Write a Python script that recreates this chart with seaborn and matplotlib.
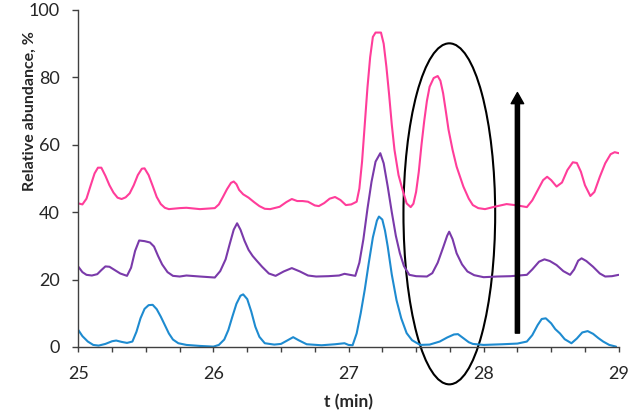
import pandas as pd
import seaborn as sns
import matplotlib.pyplot as plt
from matplotlib.patches import Ellipse
from matplotlib.ticker import MultipleLocator

# values (t in min, relative abundance in %)
pink_t = [25.00, 25.03, 25.06, 25.09, 25.12, 25.145, 25.17, 25.20, 25.23, 25.26,
          25.29, 25.32, 25.35, 25.38, 25.41, 25.44, 25.47, 25.49, 25.52, 25.55,
          25.58, 25.61, 25.64, 25.67, 25.75, 25.80, 25.90, 26.01, 26.04, 26.07,
          26.10, 26.13, 26.15, 26.17, 26.19, 26.22, 26.26, 26.30, 26.34, 26.38,
          26.42, 26.49, 26.54, 26.58, 26.62, 26.66, 26.70, 26.75, 26.78, 26.82,
          26.86, 26.90, 26.94, 26.98, 27.02, 27.06, 27.08, 27.10, 27.12, 27.14,
          27.16, 27.18, 27.20, 27.24, 27.26, 27.28, 27.30, 27.32, 27.34, 27.37,
          27.40, 27.43, 27.46, 27.48, 27.50, 27.52, 27.54, 27.56, 27.58, 27.60,
          27.63, 27.66, 27.68, 27.70, 27.72, 27.74, 27.77, 27.80, 27.85, 27.89,
          27.92, 27.96, 28.01, 28.08, 28.17, 28.25, 28.32, 28.36, 28.40, 28.44,
          28.47, 28.50, 28.54, 28.58, 28.62, 28.66, 28.69, 28.72, 28.75, 28.79,
          28.82, 28.86, 28.90, 28.94, 28.97, 29.00]
pink_y = [42.6, 42.3, 44.0, 47.8, 51.5, 53.2, 53.2, 50.8, 48.0, 45.8,
          44.3, 43.9, 44.4, 45.6, 48.0, 51.0, 52.9, 53.0, 51.0, 47.8,
          44.5, 42.4, 41.3, 40.9, 41.2, 41.3, 40.9, 41.2, 42.3, 44.5,
          46.8, 48.7, 49.1, 48.3, 46.6, 45.3, 44.3, 43.0, 41.8, 41.0,
          40.9, 41.6, 43.0, 43.9, 43.3, 43.3, 43.1, 42.0, 41.8, 42.7,
          44.0, 44.5, 43.6, 42.1, 42.3, 43.1, 47.0, 55.0, 66.0, 77.0,
          86.0, 92.0, 93.3, 93.3, 90.0, 83.2, 75.0, 66.0, 58.5, 51.0,
          46.6, 42.6, 41.5, 42.5, 46.0, 52.0, 60.0, 67.0, 73.0, 77.2,
          79.8, 80.4, 79.0, 75.3, 70.0, 64.5, 58.5, 53.5, 47.6, 44.0,
          42.1, 41.2, 40.9, 41.6, 42.4, 42.0, 41.5, 43.5, 46.5, 49.5,
          50.5, 49.5, 47.6, 48.8, 52.5, 54.8, 54.6, 52.0, 48.0, 44.8,
          46.0, 50.5, 54.5, 57.2, 57.8, 57.5]

purple_t = [25.00, 25.03, 25.06, 25.10, 25.14, 25.17, 25.20, 25.23, 25.27, 25.31,
            25.36, 25.39, 25.42, 25.45, 25.49, 25.53, 25.56, 25.59, 25.62, 25.66,
            25.70, 25.75, 25.80, 25.90, 26.01, 26.05, 26.09, 26.12, 26.15, 26.175,
            26.20, 26.23, 26.26, 26.29, 26.32, 26.36, 26.41, 26.46, 26.52, 26.58,
            26.64, 26.70, 26.76, 26.85, 26.93, 26.97, 27.01, 27.05, 27.08, 27.11,
            27.14, 27.17, 27.20, 27.235, 27.26, 27.29, 27.32, 27.35, 27.38, 27.41,
            27.45, 27.50, 27.58, 27.62, 27.66, 27.70, 27.73, 27.745, 27.77, 27.80,
            27.84, 27.88, 27.93, 28.00, 28.10, 28.20, 28.32, 28.36, 28.41, 28.45,
            28.49, 28.54, 28.59, 28.64, 28.67, 28.70, 28.725, 28.76, 28.81, 28.86,
            28.90, 28.95, 29.00]
purple_y = [23.8, 22.2, 21.4, 21.2, 21.6, 22.8, 23.9, 23.8, 22.8, 21.8,
            21.1, 23.5, 28.5, 31.6, 31.4, 31.0, 29.8, 27.0, 24.5, 22.2,
            21.1, 20.9, 21.2, 20.9, 20.6, 22.5, 26.0, 30.5, 34.8, 36.7,
            34.8, 31.5, 28.8, 27.0, 25.6, 23.8, 21.8, 21.1, 22.4, 23.4,
            22.4, 21.2, 20.9, 21.0, 21.2, 21.7, 21.4, 21.1, 25.0, 32.0,
            41.0, 49.0, 55.0, 57.5, 54.5, 47.6, 40.0, 33.0, 27.8, 24.0,
            21.4, 21.0, 20.9, 21.9, 25.0, 29.5, 33.0, 34.2, 32.0, 27.8,
            24.5, 22.4, 21.3, 20.7, 20.9, 21.0, 21.4, 23.0, 25.3, 26.0,
            25.5, 24.3, 22.5, 21.4, 23.0, 25.6, 26.3, 25.5, 23.8, 21.8,
            20.9, 21.0, 21.4]

blue_t = [25.00, 25.03, 25.07, 25.11, 25.15, 25.20, 25.25, 25.28, 25.32, 25.36,
          25.40, 25.43, 25.46, 25.49, 25.52, 25.55, 25.58, 25.61, 25.64, 25.67,
          25.70, 25.74, 25.80, 25.90, 26.00, 26.04, 26.08, 26.11, 26.14, 26.17,
          26.20, 26.22, 26.25, 26.28, 26.31, 26.34, 26.38, 26.45, 26.50, 26.55,
          26.59, 26.63, 26.69, 26.80, 26.90, 26.97, 27.00, 27.03, 27.06, 27.09,
          27.12, 27.15, 27.18, 27.21, 27.225, 27.25, 27.27, 27.29, 27.32, 27.355,
          27.39, 27.43, 27.47, 27.53, 27.60, 27.675, 27.73, 27.78, 27.81, 27.85,
          27.89, 27.92, 28.00, 28.14, 28.25, 28.32, 28.36, 28.40, 28.43, 28.46,
          28.50, 28.53, 28.565, 28.60, 28.65, 28.69, 28.73, 28.77, 28.81, 28.85,
          28.885, 28.93, 28.98]
blue_y = [5.0, 3.2, 1.6, 0.6, 0.4, 0.9, 1.7, 1.9, 1.5, 1.2,
          1.6, 4.5, 8.5, 11.3, 12.4, 12.5, 11.2, 9.0, 6.5, 4.0,
          2.2, 1.1, 0.6, 0.3, 0.1, 0.6, 2.2, 5.0, 9.0, 12.8,
          15.2, 15.6, 14.2, 10.5, 6.0, 3.0, 1.1, 0.7, 0.9, 2.0,
          2.9, 2.0, 0.8, 0.5, 0.8, 1.1, 0.6, 0.5, 4.0, 10.0,
          17.0, 25.0, 32.5, 37.5, 38.7, 37.8, 34.5, 29.8, 21.5, 13.9,
          8.5, 4.1, 2.0, 0.6, 0.7, 1.6, 2.8, 3.7, 3.8, 2.6,
          1.4, 0.9, 0.6, 0.8, 1.0, 1.6, 3.5, 6.5, 8.3, 8.5,
          7.0, 5.3, 4.0, 2.3, 1.1, 2.5, 4.3, 4.7, 3.9, 2.6,
          1.6, 0.6, 0.1]

colors = {"pink": "#ff3d9a", "purple": "#7a3aaa", "blue": "#1e8bd0"}

df = pd.concat([
    pd.DataFrame({"t": pink_t, "y": pink_y, "trace": "pink"}),
    pd.DataFrame({"t": purple_t, "y": purple_y, "trace": "purple"}),
    pd.DataFrame({"t": blue_t, "y": blue_y, "trace": "blue"}),
], ignore_index=True)

sns.set_style("white")
plt.rcParams['font.family'] = ['Lato', 'DejaVu Sans']

fig = plt.figure(figsize=(6.32, 4.16), dpi=100)
ax = fig.add_axes([0.124, 0.166, 0.855, 0.81])

sns.lineplot(data=df, x="t", y="y", hue="trace", palette=colors,
             estimator=None, sort=False, linewidth=1.5, legend=False, ax=ax)

# annotation: ellipse round the peak and the upward arrow
ax.add_patch(Ellipse((27.746, 39.5), 0.679, 101.2, fill=False,
                     edgecolor="black", linewidth=1.5, clip_on=False))
ax.annotate("", xy=(28.25, 75.5), xytext=(28.25, 4.1),
            arrowprops=dict(width=3, headwidth=9, headlength=8,
                            facecolor="black", edgecolor="black", shrink=0))

ax.set_xlim(25, 29)
ax.set_ylim(0, 100)
ax.xaxis.set_major_locator(MultipleLocator(1))
ax.xaxis.set_minor_locator(MultipleLocator(0.25))
ax.yaxis.set_major_locator(MultipleLocator(20))

sns.despine(ax=ax)
for s in ["left", "bottom"]:
    ax.spines[s].set_color("#404040")
    ax.spines[s].set_linewidth(1.0)

ax.tick_params(axis="y", which="major", direction="out", length=4.5,
               width=1, color="#404040", pad=9, labelsize=13, left=True)
ax.tick_params(axis="x", which="both", direction="out", length=3.5,
               width=1, color="#404040", pad=10, labelsize=13, bottom=True)

ax.set_xlabel("t (min)", fontsize=12.5, fontweight="bold", labelpad=9)
ax.set_ylabel("Relative abundance, %", fontsize=11.5, fontweight="bold")
ax.yaxis.set_label_coords(-0.077, 0.70)

fig.savefig("out.png", dpi=100)
